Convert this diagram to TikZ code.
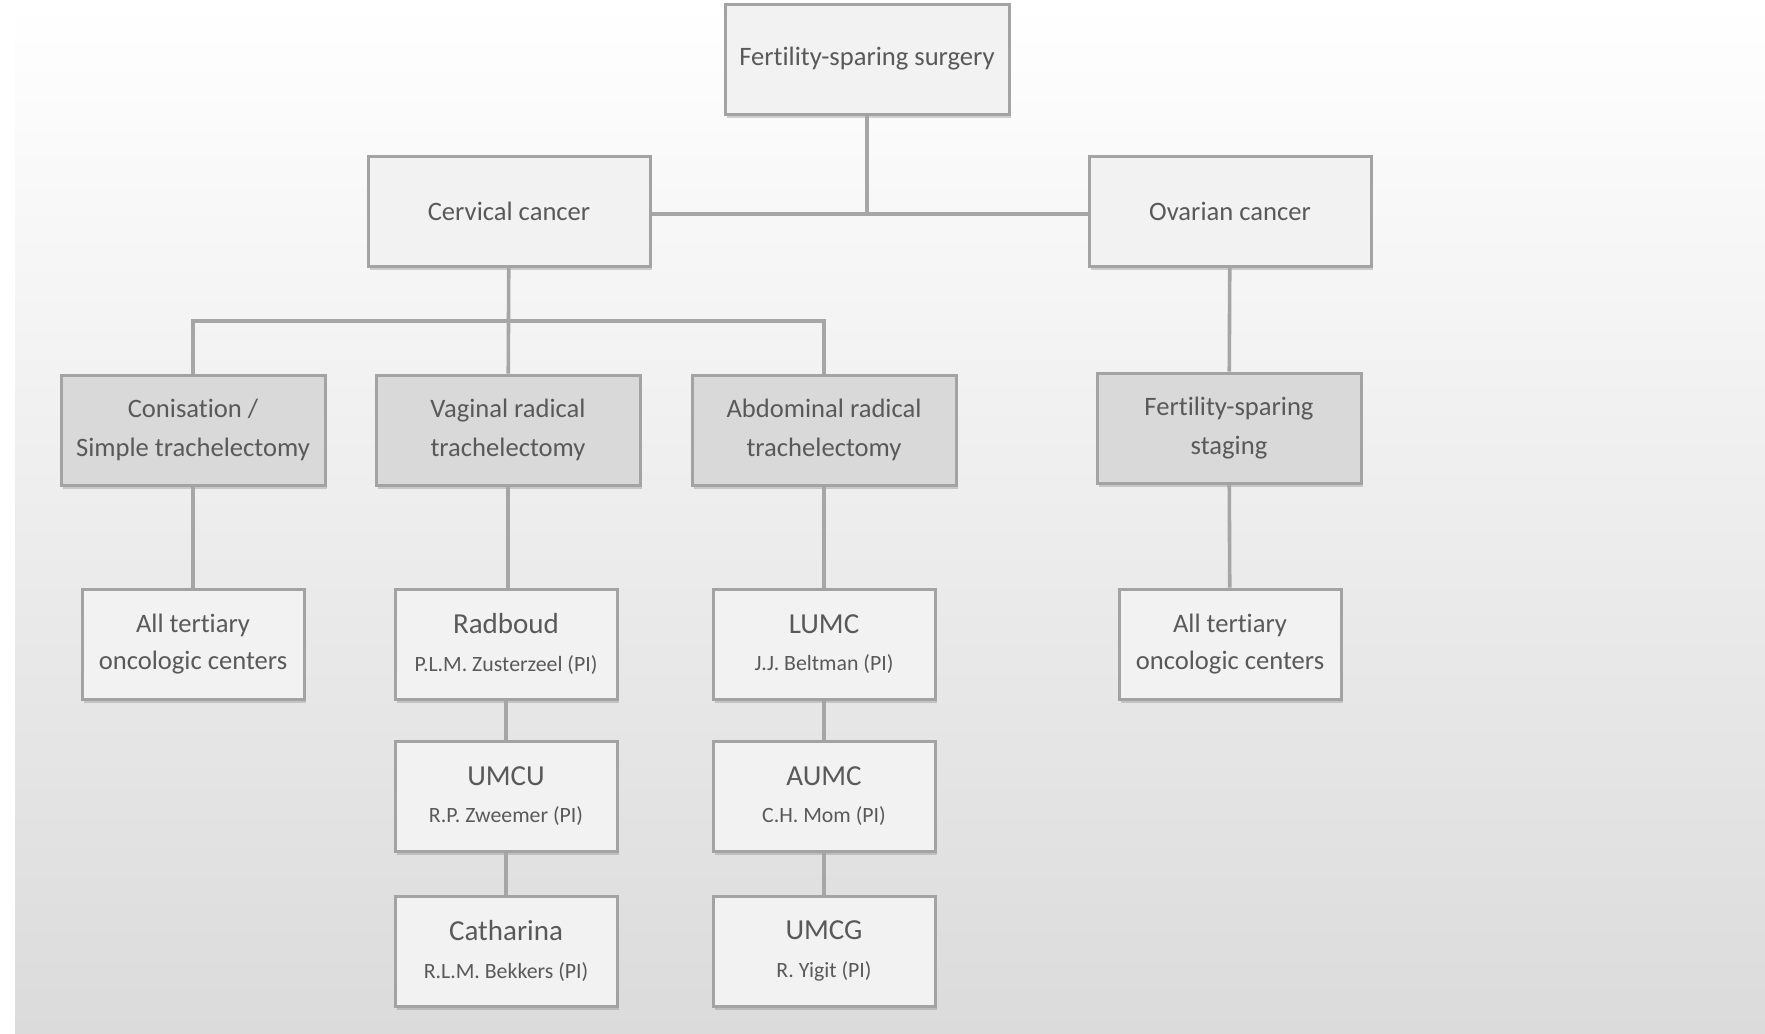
\documentclass[tikz,border=0pt]{standalone}
\usepackage{fontspec}
\setmainfont{Carlito}[RawFeature={-liga;-clig;-calt;-dlig}]
\usetikzlibrary{positioning,shadows}
\definecolor{EdgeGray}  {HTML}{A3A3A3}
\definecolor{LineGray}  {HTML}{A6A6A6}
\definecolor{FillLight} {HTML}{F2F2F2}
\definecolor{FillDark}  {HTML}{D9D9D9}
\definecolor{TextGray}  {HTML}{595959}
\definecolor{BackBottom}{HTML}{DBDBDB}
\tikzset{
  unitbox/.style={draw=EdgeGray,line width=1.5pt,fill=FillLight,text=TextGray,
       inner sep=0pt,align=center,minimum height=55pt,
       font=\fontsize{13.3}{19.7}\selectfont,
       drop shadow={shadow xshift=0.8pt,shadow yshift=-1.8pt,opacity=0.35}},
  methodbox/.style={unitbox,fill=FillDark,minimum width=132pt},
  sitebox/.style={unitbox,minimum width=111pt,font=\fontsize{13.3}{18.6}\selectfont},
  link/.style={draw=LineGray,line width=1.8pt}
}
\newcommand{\site}[2]{{\fontsize{14.5}{18.6}\selectfont #1}\\
  {\fontsize{10.9}{18.6}\selectfont #2}}
\begin{document}
\begin{tikzpicture}[x=0.5pt,y=-0.5pt]
  %% Frame and background
  \useasboundingbox (0,0) rectangle (1765,1033);
  \shade[top color=white,bottom color=BackBottom] (15,0) rectangle (1765,1033);
  %% Top level
  \node[unitbox,minimum width=142pt] (fss) at (867,59) {Fertility-sparing surgery};
  \node[unitbox,minimum width=141pt] (cerv) at (509,211) {Cervical cancer};
  \node[unitbox,minimum width=141pt] (ovar) at (1230,211) {Ovarian cancer};
  %% Procedures
  \node[methodbox] (coni) at (193,430) {Conisation /\\Simple trachelectomy};
  \node[methodbox] (vrt) at (508,430) {Vaginal radical\\trachelectomy};
  \node[methodbox] (art) at (824,430) {Abdominal radical\\trachelectomy};
  \node[methodbox] (fsst) at (1229,428) {Fertility-sparing\\staging};
  %% Centers
  \node[sitebox] (allL) at (193,644) {All tertiary\\oncologic centers};
  \node[sitebox] (radb) at (506,644) {\site{Radboud}{P.L.M. Zusterzeel (PI)}};
  \node[sitebox] (umcu) at (506,796) {\site{UMCU}{R.P. Zweemer (PI)}};
  \node[sitebox] (cath) at (506,951) {\site{Catharina}{R.L.M. Bekkers (PI)}};
  \node[sitebox] (lumc) at (824,644) {\site{LUMC}{J.J. Beltman (PI)}};
  \node[sitebox] (aumc) at (824,796) {\site{AUMC}{C.H. Mom (PI)}};
  \node[sitebox] (umcg) at (824,951) {\site{UMCG}{R. Yigit (PI)}};
  \node[sitebox] (allR) at (1230,644) {All tertiary\\oncologic centers};
  %% Connectors
  \coordinate (jbar) at ([yshift=-1.5pt]cerv.east);
  \draw[link] (jbar) -- (ovar.west |- jbar);
  \draw[link] (fss) -- (fss |- jbar);
  \coordinate (cbar) at (508,321);
  \draw[link] (cerv) -- (vrt);
  \draw[link] (cbar) -| (coni);
  \draw[link] (cbar) -| (art);
  \draw[link] (ovar) -- (fsst) -- (allR);
  \draw[link] (coni) -- (allL);
  \draw[link] (vrt) -- (vrt |- radb.north);
  \draw[link] (radb) -- (umcu) -- (cath);
  \draw[link] (art) -- (lumc) -- (aumc) -- (umcg);
\end{tikzpicture}
\end{document}
